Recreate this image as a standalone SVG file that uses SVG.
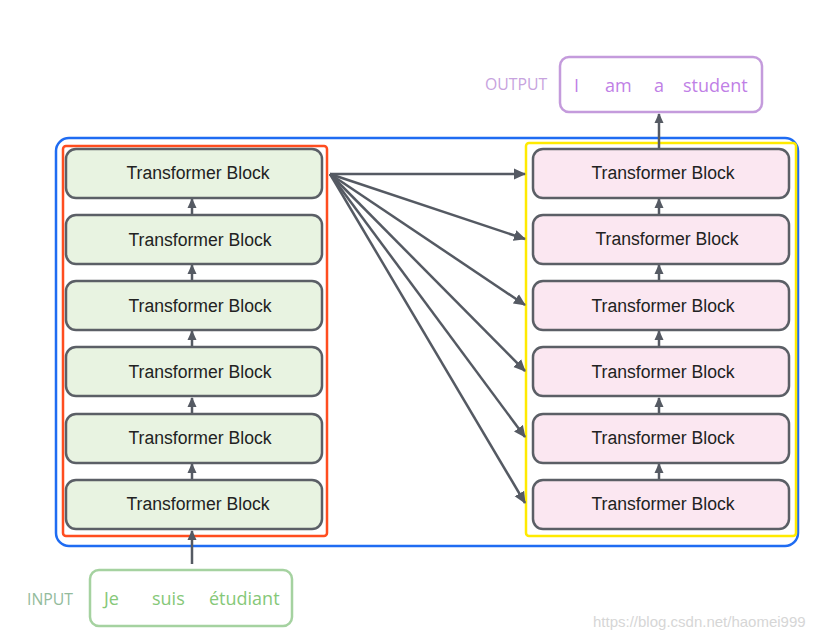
<svg xmlns="http://www.w3.org/2000/svg" width="827" height="639" viewBox="0 0 827 639">
<style>
.bg{fill:#ffffff}
.blk rect{stroke:#5b5f66;stroke-width:2.5}
.enc rect{fill:#e8f3e1}
.dec rect{fill:#fbe7f1}
.blk text{font-family:"Liberation Sans",Arial,sans-serif;font-size:17.6px;fill:#222;text-anchor:middle}
.con{stroke:#555a63;stroke-width:2.5;fill:none}
.tok{font-family:"Open Sans","Liberation Sans",sans-serif;font-size:18px}
.lbl{font-family:"Open Sans","Liberation Sans",sans-serif;font-size:15.8px}
</style>
<defs>
<marker id="ah" markerUnits="userSpaceOnUse" markerWidth="12" markerHeight="12" viewBox="0 0 12 12" refX="11" refY="6" orient="auto">
<path d="M0,0.5 L12,6 L0,11.5 z" fill="#555a63"/>
</marker>
<marker id="as" markerUnits="userSpaceOnUse" markerWidth="10" markerHeight="10" viewBox="0 0 10 10" refX="9" refY="5" orient="auto">
<path d="M0,0.5 L10,5 L0,9.5 z" fill="#555a63"/>
</marker>
</defs>
<rect class="bg" width="827" height="639"/>
<rect id="outer" x="56" y="138" width="742" height="408" rx="13" fill="none" stroke="#1f6cf2" stroke-width="2.5"/>
<rect id="encoder" x="63" y="146" width="264" height="390" rx="3" fill="none" stroke="#ff4d1f" stroke-width="2.5"/>
<rect id="decoder" x="526" y="143" width="270" height="393" rx="3" fill="none" stroke="#ffea00" stroke-width="2.5"/>
<g id="connectors">
<line class="con" x1="192" y1="480" x2="192" y2="464" marker-end="url(#as)"/>
<line class="con" x1="192" y1="414" x2="192" y2="398" marker-end="url(#as)"/>
<line class="con" x1="192" y1="347" x2="192" y2="331" marker-end="url(#as)"/>
<line class="con" x1="192" y1="281" x2="192" y2="265" marker-end="url(#as)"/>
<line class="con" x1="192" y1="215" x2="192" y2="199" marker-end="url(#as)"/>
<line class="con" x1="659" y1="480" x2="659" y2="464" marker-end="url(#as)"/>
<line class="con" x1="659" y1="414" x2="659" y2="398" marker-end="url(#as)"/>
<line class="con" x1="659" y1="347" x2="659" y2="331" marker-end="url(#as)"/>
<line class="con" x1="659" y1="281" x2="659" y2="265" marker-end="url(#as)"/>
<line class="con" x1="659" y1="215" x2="659" y2="199" marker-end="url(#as)"/>
<line class="con" x1="659" y1="149" x2="659" y2="114" marker-end="url(#as)"/>
<line class="con" x1="192" y1="564" x2="192" y2="531" marker-end="url(#as)"/>
<line class="con" x1="330" y1="174" x2="525" y2="174" marker-end="url(#ah)"/>
<line class="con" x1="330" y1="174" x2="525" y2="239" marker-end="url(#ah)"/>
<line class="con" x1="330" y1="174" x2="525" y2="305" marker-end="url(#ah)"/>
<line class="con" x1="330" y1="174" x2="525" y2="371" marker-end="url(#ah)"/>
<line class="con" x1="330" y1="174" x2="525" y2="437" marker-end="url(#ah)"/>
<line class="con" x1="330" y1="174" x2="525" y2="503" marker-end="url(#ah)"/>
</g>
<g id="enc1" class="blk enc"><rect x="66" y="480" width="256" height="49" rx="10"/><text x="198" y="510">Transformer Block</text></g>
<g id="enc2" class="blk enc"><rect x="66" y="414" width="256" height="49" rx="10"/><text x="200" y="444">Transformer Block</text></g>
<g id="enc3" class="blk enc"><rect x="66" y="347" width="256" height="49" rx="10"/><text x="200" y="378">Transformer Block</text></g>
<g id="enc4" class="blk enc"><rect x="66" y="281" width="256" height="49" rx="10"/><text x="200" y="312">Transformer Block</text></g>
<g id="enc5" class="blk enc"><rect x="66" y="215" width="256" height="49" rx="10"/><text x="200" y="246">Transformer Block</text></g>
<g id="enc6" class="blk enc"><rect x="66" y="149" width="256" height="49" rx="10"/><text x="198" y="179">Transformer Block</text></g>
<g id="dec1" class="blk dec"><rect x="533" y="480" width="256" height="49" rx="10"/><text x="663" y="510">Transformer Block</text></g>
<g id="dec2" class="blk dec"><rect x="533" y="414" width="256" height="49" rx="10"/><text x="663" y="444">Transformer Block</text></g>
<g id="dec3" class="blk dec"><rect x="533" y="347" width="256" height="49" rx="10"/><text x="663" y="378">Transformer Block</text></g>
<g id="dec4" class="blk dec"><rect x="533" y="281" width="256" height="49" rx="10"/><text x="663" y="312">Transformer Block</text></g>
<g id="dec5" class="blk dec"><rect x="533" y="215" width="256" height="49" rx="10"/><text x="667" y="245">Transformer Block</text></g>
<g id="dec6" class="blk dec"><rect x="533" y="149" width="256" height="49" rx="10"/><text x="663" y="179">Transformer Block</text></g>
<g id="output">
<text class="lbl" x="485" y="90" fill="#c7a3de">OUTPUT</text>
<rect x="560" y="57" width="202" height="55" rx="9" fill="#fff" stroke="#c49bdc" stroke-width="2.5"/>
<text class="tok" y="92" fill="#bf80e6"><tspan x="574">I</tspan><tspan x="605">am</tspan><tspan x="654">a</tspan><tspan x="683">student</tspan></text>
</g>
<g id="input">
<text class="lbl" x="27" y="605" fill="#93bb9c">INPUT</text>
<rect x="90" y="570" width="202" height="56" rx="9" fill="#fff" stroke="#a5d2a0" stroke-width="2.5"/>
<text class="tok" y="605" fill="#86c878"><tspan x="104">Je</tspan><tspan x="152">suis</tspan><tspan x="209">étudiant</tspan></text>
</g>
<text x="593" y="627" font-family="'Liberation Sans',Arial,sans-serif" font-size="15" fill="#d6d6d6">https://blog.csdn.net/haomei999</text>
</svg>
